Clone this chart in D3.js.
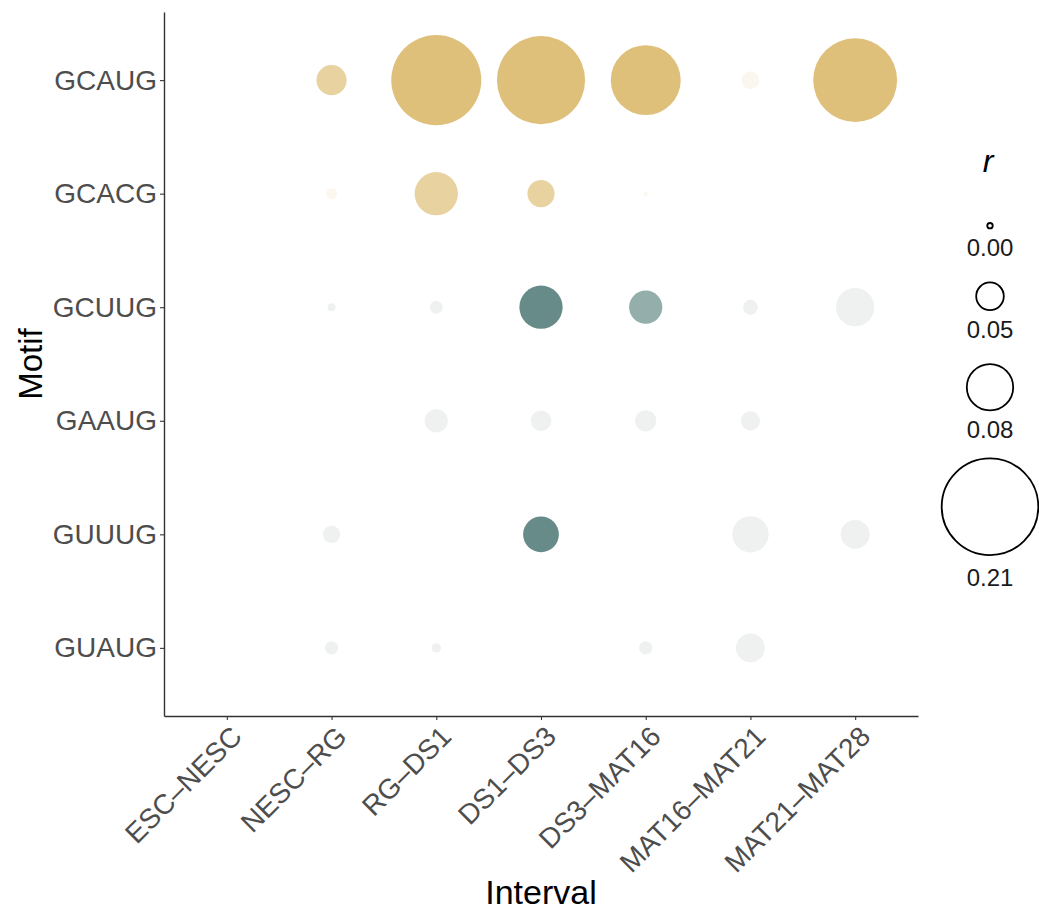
<!DOCTYPE html>
<html>
<head>
<meta charset="utf-8">
<script src="https://cdn.jsdelivr.net/npm/d3@7"></script>
<style>
  body { margin: 0; background: #ffffff; }
  svg { display: block; font-family: "Liberation Sans", Arial, Helvetica, sans-serif; }
</style>
</head>
<body>
<div class="bubble"></div>
<script>
// DATA
const MOTIFS = ["GCAUG", "GCACG", "GCUUG", "GAAUG", "GUUUG", "GUAUG"];
const INTERVALS = ["ESC–NESC", "NESC–RG", "RG–DS1", "DS1–DS3", "DS3–MAT16", "MAT16–MAT21", "MAT21–MAT28"];

// r per interval (null = no point)
const R_GCAUG = [null, 0.054, 0.193, 0.188, 0.141, 0.030, 0.177];
const R_GCACG = [null, 0.016, 0.075, 0.049, 0.002, null, null];
const R_GCUUG = [null, 0.010, 0.020, 0.075, 0.059, 0.024, 0.067];
const R_GAAUG = [null, null, 0.041, 0.036, 0.037, 0.033, null];
const R_GUUUG = [null, 0.029, null, 0.063, null, 0.064, 0.052];
const R_GUAUG = [null, 0.021, 0.013, null, 0.021, 0.052, null];

// colour score per interval (-1 teal .. 1 gold, null = not significant, grey)
const C_GCAUG = [null, 0.72, 1, 1, 1, 0.12, 1];
const C_GCACG = [null, 0.12, 0.72, 0.72, 0.12, null, null];
const C_GCUUG = [null, null, null, -1, -0.7, null, null];
const C_GAAUG = [null, null, null, null, null, null, null];
const C_GUUUG = [null, null, null, -1, null, null, null];
const C_GUAUG = [null, null, null, null, null, null, null];

const R_ROWS = [R_GCAUG, R_GCACG, R_GCUUG, R_GAAUG, R_GUUUG, R_GUAUG];
const C_ROWS = [C_GCAUG, C_GCACG, C_GCUUG, C_GAAUG, C_GUUUG, C_GUAUG];

const LEGEND_BREAKS = [0.005, 0.05, 0.08, 0.21];
const LEGEND_LABELS = ["0.00", "0.05", "0.08", "0.21"];

// GLOBAL CONSTANTS
const FRAME_WIDTH = 1039;
const FRAME_HEIGHT = 915;
const PANEL = {left: 164, right: 918, top: 12, bottom: 716};
const AXIS_GREY = "#4d4d4d";

const FRAME = d3.select(".bubble")
                .append("svg")
                  .attr("width", FRAME_WIDTH)
                  .attr("height", FRAME_HEIGHT);

// flatten rows into cells
let cells = [];
MOTIFS.forEach((m, i) => {
    INTERVALS.forEach((iv, j) => {
        if (R_ROWS[i][j] !== null) {
            cells.push({motif: m, interval: iv, r: R_ROWS[i][j], c: C_ROWS[i][j]});
        }
    });
});

// scales
const X_SCALE = d3.scalePoint()
                  .domain(INTERVALS)
                  .range([PANEL.left, PANEL.right])
                  .padding(0.6);

const Y_SCALE = d3.scalePoint()
                  .domain(MOTIFS)
                  .range([PANEL.top, PANEL.bottom])
                  .padding(0.6);

const SIZE_SCALE = d3.scaleLinear()
                     .domain([0, 0.05, 0.08, 0.21])
                     .range([1.5, 13.8, 23.2, 48.3]);

const COLOR_SCALE = d3.scaleLinear()
                      .domain([-1, 0, 1])
                      .range(["#668b88", "#ffffff", "#dfc07b"]);

// points (largest first so small ones stay on top)
FRAME.append("g")
    .selectAll("circle")
    .data(cells.slice().sort((a, b) => b.r - a.r))
    .enter()
    .append("circle")
      .attr("cx", (d) => X_SCALE(d.interval))
      .attr("cy", (d) => Y_SCALE(d.motif))
      .attr("r", (d) => SIZE_SCALE(d.r))
      .attr("fill", (d) => d.c === null ? "#eff0f0" : COLOR_SCALE(d.c));

// Y AXIS
const yAxis = FRAME.append("g")
    .attr("transform", "translate(" + PANEL.left + ",0)")
    .call(d3.axisLeft(Y_SCALE).tickSize(4).tickSizeOuter(0).tickPadding(3));

// X AXIS
const xAxis = FRAME.append("g")
    .attr("transform", "translate(0," + PANEL.bottom + ")")
    .call(d3.axisBottom(X_SCALE).tickSize(4).tickSizeOuter(0));

[xAxis, yAxis].forEach((ax) => {
    ax.select(".domain").attr("stroke", "#333333").attr("stroke-width", 1.4);
    ax.selectAll(".tick line").attr("stroke", "#333333").attr("stroke-width", 1.1);
    ax.selectAll("text")
        .attr("fill", AXIS_GREY)
        .attr("font-size", "28px")
        .attr("font-family", "'Liberation Sans', Arial, sans-serif");
});

xAxis.selectAll(".tick text")
    .attr("x", 0)
    .attr("y", 0)
    .attr("dy", "0.72em")
    .attr("text-anchor", "end")
    .attr("transform", "translate(2,8) rotate(-45)");

// axis titles
FRAME.append("text")
    .attr("x", (PANEL.left + PANEL.right) / 2)
    .attr("y", 904)
    .attr("text-anchor", "middle")
    .attr("font-size", "34px")
    .attr("fill", "#000000")
    .text("Interval");

FRAME.append("text")
    .attr("transform", "translate(42," + ((PANEL.top + PANEL.bottom) / 2) + ") rotate(-90)")
    .attr("text-anchor", "middle")
    .attr("font-size", "33px")
    .attr("fill", "#000000")
    .text("Motif");

// LEGEND
const LEG_X = 990;
const legend = FRAME.append("g");

legend.append("text")
    .attr("x", LEG_X - 2)
    .attr("y", 172)
    .attr("text-anchor", "middle")
    .attr("font-size", "32px")
    .attr("font-style", "italic")
    .text("r");

let yPos = 222;
LEGEND_BREAKS.forEach((v, i) => {
    let rad = SIZE_SCALE(v);
    legend.append("circle")
        .attr("cx", LEG_X)
        .attr("cy", yPos + rad + 1)
        .attr("r", rad)
        .attr("fill", "none")
        .attr("stroke", "#000000")
        .attr("stroke-width", 1.8);
    let labelTop = yPos + 2 * rad + 2 + (i === 3 ? 12 : 9);
    legend.append("text")
        .attr("x", LEG_X)
        .attr("y", labelTop)
        .attr("dy", "0.74em")
        .attr("text-anchor", "middle")
        .attr("font-size", "24px")
        .attr("fill", "#1a1a1a")
        .text(LEGEND_LABELS[i]);
    yPos = labelTop + 22 + (i === 2 ? 15 : 21);
});
</script>
</body>
</html>
